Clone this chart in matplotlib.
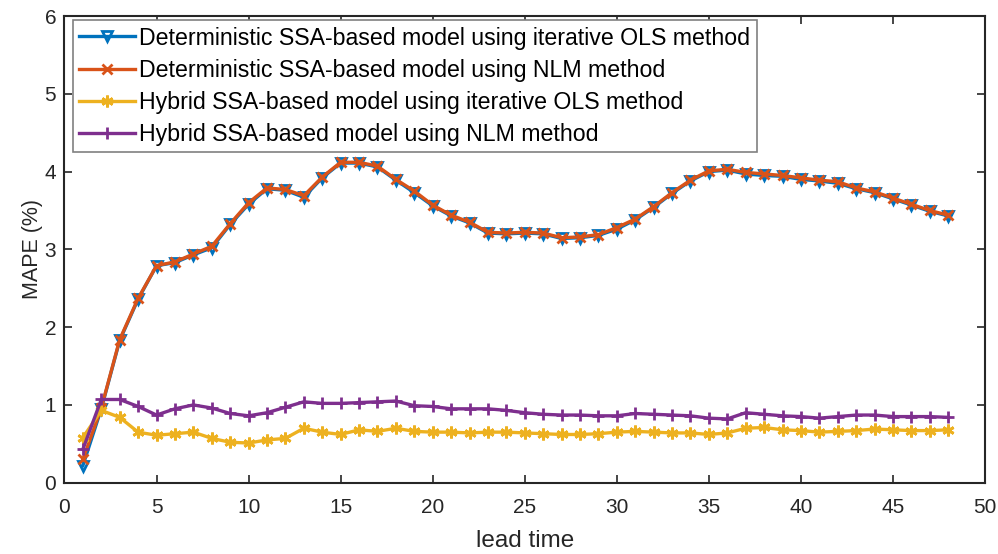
import matplotlib
matplotlib.use("Agg")
import matplotlib.pyplot as plt
import numpy as np

plt.rcParams['font.family'] = ['Liberation Sans', 'DejaVu Sans']

lead_time = list(range(1, 49))

det_ols = [0.22, 0.95, 1.83, 2.36, 2.79, 2.83, 2.93, 3.02, 3.32, 3.58, 3.78, 3.76, 3.67, 3.92, 4.11,
           4.11, 4.06, 3.89, 3.73, 3.56, 3.43, 3.34, 3.21, 3.20, 3.21, 3.20, 3.14, 3.15, 3.18, 3.26,
           3.38, 3.54, 3.72, 3.88, 4.00, 4.02, 3.97, 3.95, 3.94, 3.90, 3.88, 3.85, 3.78, 3.73, 3.65,
           3.57, 3.49, 3.43]
det_nlm = [0.30, 0.96, 1.84, 2.37, 2.79, 2.84, 2.94, 3.04, 3.33, 3.60, 3.79, 3.77, 3.69, 3.93, 4.12,
           4.12, 4.07, 3.90, 3.75, 3.57, 3.44, 3.35, 3.22, 3.21, 3.22, 3.21, 3.15, 3.16, 3.19, 3.28,
           3.39, 3.55, 3.73, 3.89, 4.01, 4.03, 3.99, 3.97, 3.95, 3.92, 3.89, 3.87, 3.79, 3.74, 3.66,
           3.58, 3.50, 3.44]
hyb_ols = [0.58, 0.93, 0.84, 0.65, 0.61, 0.63, 0.65, 0.57, 0.52, 0.51, 0.55, 0.57, 0.70, 0.65, 0.62,
           0.68, 0.66, 0.70, 0.66, 0.65, 0.65, 0.64, 0.65, 0.65, 0.64, 0.63, 0.62, 0.62, 0.63, 0.65,
           0.66, 0.65, 0.64, 0.64, 0.62, 0.64, 0.70, 0.71, 0.68, 0.67, 0.65, 0.66, 0.67, 0.69, 0.68,
           0.67, 0.67, 0.68]
hyb_nlm = [0.43, 1.07, 1.07, 0.98, 0.87, 0.95, 1.00, 0.96, 0.89, 0.86, 0.90, 0.97, 1.04, 1.02, 1.02,
           1.03, 1.04, 1.05, 0.99, 0.98, 0.95, 0.95, 0.95, 0.93, 0.90, 0.88, 0.87, 0.87, 0.86, 0.86,
           0.89, 0.88, 0.87, 0.86, 0.83, 0.82, 0.90, 0.88, 0.86, 0.85, 0.83, 0.85, 0.87, 0.87, 0.85,
           0.85, 0.85, 0.84]

labels = ["Deterministic SSA-based model using iterative OLS method",
          "Deterministic SSA-based model using NLM method",
          "Hybrid SSA-based model using iterative OLS method",
          "Hybrid SSA-based model using NLM method"]

fig = plt.figure(figsize=(9.98, 5.54), dpi=100)
ax = fig.add_axes([0.0646, 0.1287, 0.9224, 0.8423])

ax.plot(lead_time, det_ols, color='#0072BD', lw=2.4, marker='v', ms=7.5, mfc='none', mew=2.0, label=labels[0])
ax.plot(lead_time, det_nlm, color='#D95319', lw=2.4, marker='x', ms=7.5, mew=2.0, label=labels[1])
ax.plot(lead_time, hyb_ols, color='#EDB120', lw=2.4, marker=(6, 2, 0), ms=8.5, mew=2.0, label=labels[2])
ax.plot(lead_time, hyb_nlm, color='#7E2F8E', lw=2.4, marker='+', ms=8.5, mew=2.0, label=labels[3])

ax.set_xlim(0, 50)
ax.set_ylim(0, 6)
ax.set_xticks(np.arange(0, 51, 5))
ax.set_yticks(np.arange(0, 7, 1))
ax.tick_params(direction='in', top=True, right=True, labelsize=15, length=6, width=1.2, colors='#262626')
ax.tick_params(axis='x', pad=11)
ax.tick_params(axis='y', pad=6)
for s in ax.spines.values():
    s.set_linewidth(1.5)
    s.set_color('#262626')
ax.set_xlabel('lead time', fontsize=17.5, color='#262626')
ax.set_ylabel('MAPE (%)', fontsize=15.5, color='#262626')
ax.xaxis.set_label_coords(0.5, -0.101)
ax.yaxis.set_label_coords(-0.0235, 0.5)

leg = ax.legend(loc='upper left', bbox_to_anchor=(0.0092, 0.9914), borderaxespad=0,
                fontsize=16.7, frameon=True, fancybox=False, edgecolor='#808080',
                handlelength=2.4, handletextpad=0.18, borderpad=0.28, labelspacing=0.39,
                framealpha=1)
leg.get_frame().set_linewidth(1.2)

fig.savefig('out.png', dpi=100)
